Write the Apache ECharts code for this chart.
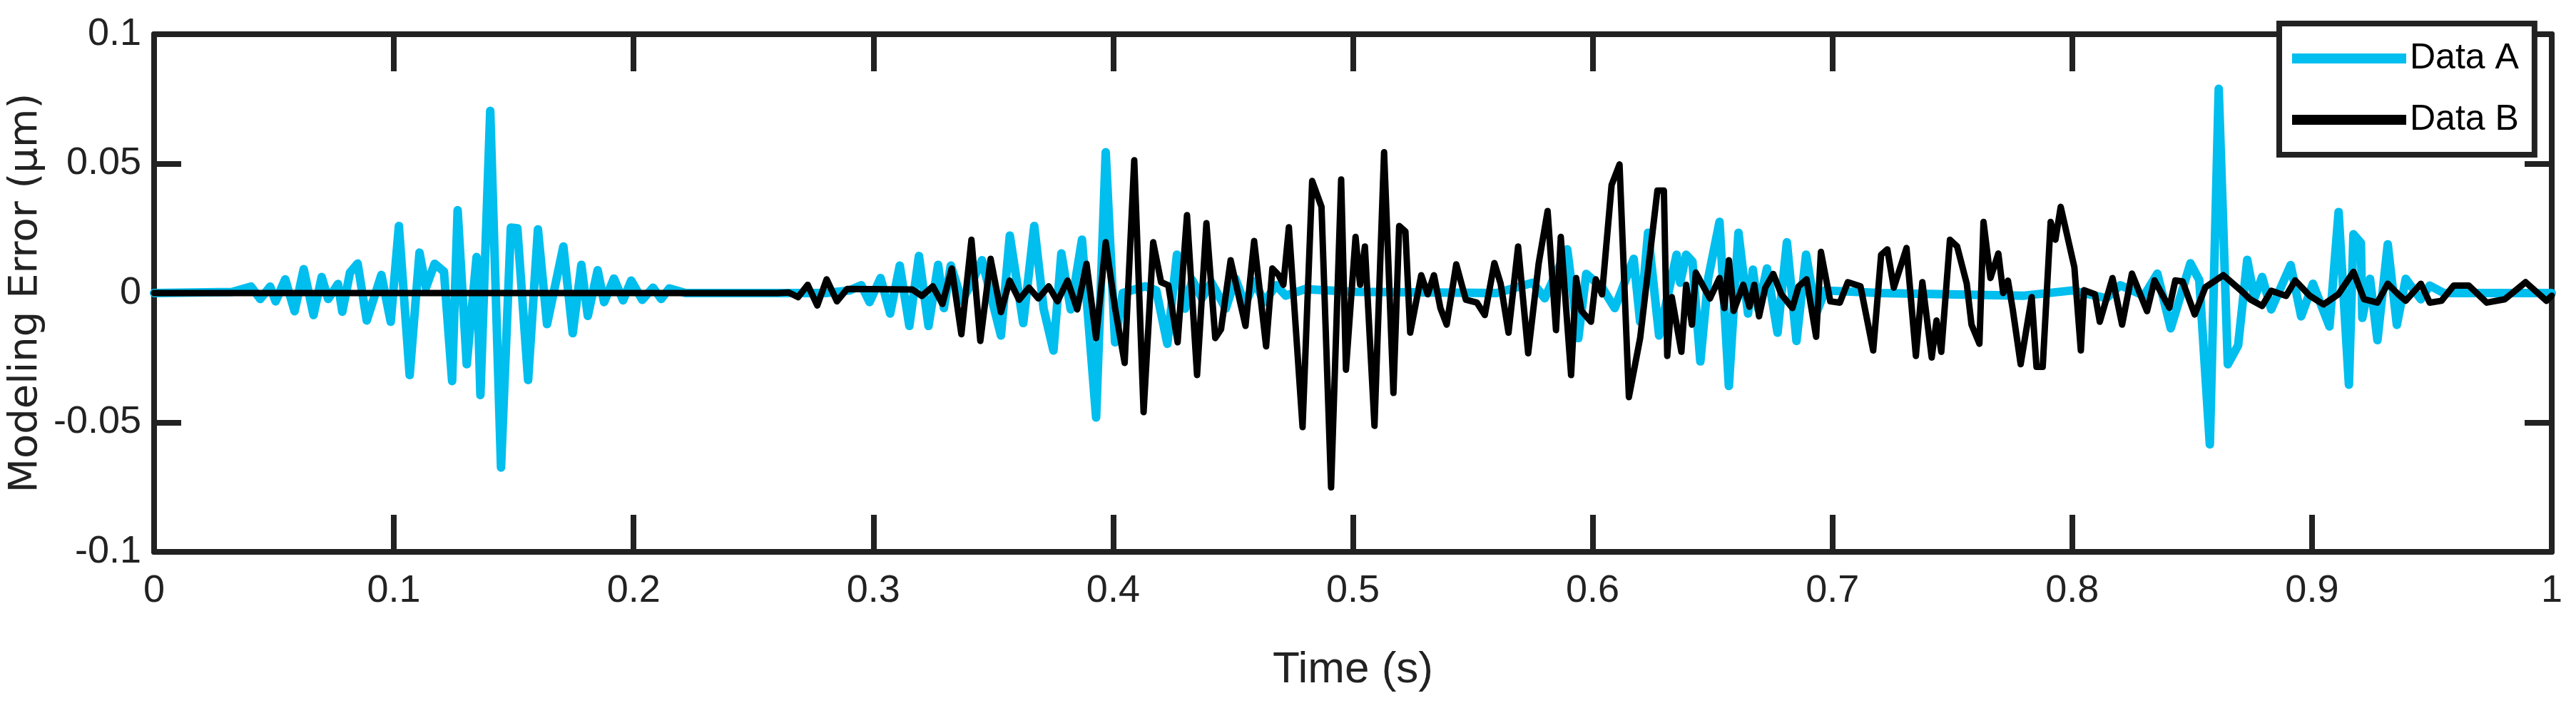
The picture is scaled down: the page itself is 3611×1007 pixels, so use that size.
<!DOCTYPE html>
<html>
<head>
<meta charset="utf-8">
<script src="https://cdn.jsdelivr.net/npm/echarts@6/dist/echarts.min.js"></script>
<style>
  html, body { margin: 0; padding: 0; background: #fff; }
  #chart { width: 3611px; height: 1007px; }
</style>
</head>
<body>
<div id="chart"></div>
<script>
var xTicks = [0, 0.1, 0.2, 0.3, 0.4, 0.5, 0.6, 0.7, 0.8, 0.9, 1];
var yTicks = [-0.1, -0.05, 0, 0.05, 0.1];

// Data A (cyan): [time, error]
var dataA = [
  [0, 0], [0.0325, 0.0004], [0.0404, 0.0025], [0.0443, -0.0023], [0.0484, 0.0025], [0.0507, -0.0032],
  [0.0547, 0.0053], [0.0586, -0.0070], [0.0624, 0.0092], [0.0665, -0.0085], [0.0699, 0.0062],
  [0.0726, -0.0023], [0.0767, 0.0035], [0.0785, -0.0072], [0.0817, 0.0079], [0.0849, 0.0114],
  [0.0887, -0.0106], [0.0948, 0.0070], [0.0987, -0.0111], [0.1021, 0.0259], [0.1066, -0.0317],
  [0.1107, 0.0156], [0.1134, 0.0021], [0.1170, 0.0113], [0.1209, 0.0083], [0.1243, -0.0340],
  [0.1266, 0.0320], [0.1304, -0.0275], [0.1345, 0.0139], [0.1361, -0.0394], [0.1402, 0.0704],
  [0.1447, -0.0674], [0.1488, 0.0253], [0.1515, 0.0250], [0.1560, -0.0336], [0.1601, 0.0246],
  [0.1639, -0.0120], [0.1707, 0.0180], [0.1746, -0.0155], [0.1782, 0.0109], [0.1809, -0.0088],
  [0.1850, 0.0088], [0.1877, -0.0035], [0.1918, 0.0056], [0.1956, -0.0028], [0.1990, 0.0048],
  [0.2036, -0.0026], [0.2081, 0.0021], [0.2115, -0.0023], [0.2149, 0.0018], [0.2217, 0],
  [0.2800, 0], [0.2900, 0.0010], [0.2950, 0.0030], [0.2984, -0.0035], [0.3030, 0.0058],
  [0.3070, -0.0079], [0.3110, 0.0106], [0.3150, -0.0127], [0.3190, 0.0143], [0.3230, -0.0127],
  [0.3270, 0.0109], [0.3294, -0.0058], [0.3323, 0.0106], [0.3370, -0.0030], [0.3410, 0.0040],
  [0.3453, 0.0127], [0.3532, -0.0164], [0.3569, 0.0222], [0.3625, -0.0116], [0.3671, 0.0259],
  [0.3710, -0.0060], [0.3751, -0.0222], [0.3784, 0.0153], [0.3823, -0.0063], [0.3870, 0.0206],
  [0.3929, -0.0481], [0.3969, 0.0544], [0.4008, -0.0190], [0.4040, 0.0000], [0.4134, 0.0026],
  [0.4180, 0.0010], [0.4226, -0.0196], [0.4266, 0.0148], [0.4300, -0.0060], [0.4330, 0.0050],
  [0.4370, -0.0020], [0.4410, 0.0040], [0.4470, -0.0060], [0.4510, 0.0055], [0.4550, -0.0045],
  [0.4590, 0.0045], [0.4630, -0.0035], [0.4680, 0.0030], [0.4720, -0.0010], [0.4800, 0.0015],
  [0.5000, 0.0005], [0.5600, 0.0000], [0.5750, 0.0040], [0.5800, -0.0020], [0.5894, 0.0169],
  [0.5940, -0.0174], [0.5973, 0.0074], [0.6040, 0.0020], [0.6092, -0.0058], [0.6171, 0.0132],
  [0.6198, -0.0111], [0.6231, 0.0233], [0.6277, -0.0164], [0.6350, 0.0148], [0.6365, 0.0040],
  [0.6390, 0.0148], [0.6416, 0.0122], [0.6449, -0.0264], [0.6482, 0.0058], [0.6529, 0.0275],
  [0.6568, -0.0359], [0.6608, 0.0233], [0.6648, -0.0079], [0.6668, 0.0090], [0.6690, -0.0060],
  [0.6727, 0.0095], [0.6771, -0.0153], [0.6810, 0.0196], [0.6850, -0.0185], [0.6890, 0.0148],
  [0.6932, -0.0079], [0.6970, 0.0010], [0.7200, 0.0000], [0.7800, -0.0010], [0.8000, 0.0010],
  [0.8143, -0.0020], [0.8200, 0.0030], [0.8300, -0.0010], [0.8355, 0.0075], [0.8411, -0.0136],
  [0.8493, 0.0115], [0.8530, 0.0050], [0.8574, -0.0585], [0.8611, 0.0789], [0.8649, -0.0275],
  [0.8692, -0.0202], [0.8730, 0.0128], [0.8760, -0.0020], [0.8792, 0.0062], [0.8830, -0.0063],
  [0.8911, 0.0108], [0.8955, -0.0090], [0.9004, 0.0036], [0.9073, -0.0129], [0.9111, 0.0313],
  [0.9154, -0.0354], [0.9173, 0.0227], [0.9204, 0.0194], [0.9210, -0.0096], [0.9242, 0.0055],
  [0.9273, -0.0182], [0.9316, 0.0188], [0.9354, -0.0123], [0.9391, 0.0055], [0.9454, -0.0024],
  [0.9491, 0.0029], [0.9550, 0.0000], [1.0, 0.0000]
];

// Data B (black): [time, error]
var dataB = [
  [0, 0], [0.2600, 0], [0.2647, 0.0002], [0.2686, -0.0016], [0.2726, 0.0032], [0.2766, -0.0048],
  [0.2805, 0.0053], [0.2848, -0.0032], [0.2891, 0.0016], [0.3162, 0.0014], [0.3202, -0.0011],
  [0.3248, 0.0026], [0.3288, -0.0042], [0.3327, 0.0095], [0.3367, -0.0159], [0.3409, 0.0206],
  [0.3446, -0.0185], [0.3489, 0.0132], [0.3532, -0.0074], [0.3568, 0.0048], [0.3608, -0.0026],
  [0.3649, 0.0021], [0.3688, -0.0021], [0.3731, 0.0026], [0.3768, -0.0032], [0.3810, 0.0048],
  [0.3850, -0.0063], [0.3889, 0.0113], [0.3929, -0.0174], [0.3969, 0.0196], [0.4008, -0.0058],
  [0.4048, -0.0270], [0.4088, 0.0513], [0.4127, -0.0460], [0.4167, 0.0196], [0.4200, 0.0042],
  [0.4230, 0.0030], [0.4269, -0.0190], [0.4308, 0.0301], [0.4350, -0.0317], [0.4389, 0.0270],
  [0.4426, -0.0174], [0.4450, -0.0140], [0.4490, 0.0127], [0.4552, -0.0127], [0.4588, 0.0201],
  [0.4638, -0.0206], [0.4664, 0.0095], [0.4690, 0.0070], [0.4710, 0.0032], [0.4733, 0.0254],
  [0.4790, -0.0518], [0.4830, 0.0433], [0.4869, 0.0333], [0.4909, -0.0751], [0.4951, 0.0439],
  [0.4971, -0.0296], [0.5011, 0.0217], [0.5030, 0.0032], [0.5050, 0.0180], [0.5090, -0.0513],
  [0.5130, 0.0544], [0.5169, -0.0386], [0.5193, 0.0259], [0.5219, 0.0238], [0.5239, -0.0153],
  [0.5285, 0.0069], [0.5312, -0.0005], [0.5338, 0.0069], [0.5365, -0.0058], [0.5391, -0.0122],
  [0.5431, 0.0111], [0.5471, -0.0026], [0.5517, -0.0037], [0.5550, -0.0085], [0.5590, 0.0116],
  [0.5616, 0.0037], [0.5649, -0.0153], [0.5689, 0.0180], [0.5731, -0.0233], [0.5775, 0.0116],
  [0.5812, 0.0317], [0.5847, -0.0143], [0.5867, 0.0217], [0.5910, -0.0317], [0.5931, 0.0058],
  [0.5953, -0.0069], [0.5993, -0.0111], [0.6013, 0.0053], [0.6039, -0.0005], [0.6079, 0.0418],
  [0.6112, 0.0497], [0.6151, -0.0402], [0.6198, -0.0174], [0.6270, 0.0396], [0.6297, 0.0396],
  [0.6311, -0.0243], [0.6330, -0.0016], [0.6370, -0.0227], [0.6390, 0.0032], [0.6414, -0.0122],
  [0.6430, 0.0079], [0.6489, -0.0021], [0.6529, 0.0058], [0.6549, -0.0058], [0.6568, 0.0127],
  [0.6588, -0.0069], [0.6628, 0.0032], [0.6654, -0.0053], [0.6674, 0.0032], [0.6694, -0.0090],
  [0.6720, 0.0021], [0.6753, 0.0074], [0.6787, -0.0005], [0.6833, -0.0058], [0.6859, 0.0026],
  [0.6892, 0.0053], [0.6932, -0.0169], [0.6952, 0.0159], [0.6991, -0.0032], [0.7031, -0.0037],
  [0.7064, 0.0042], [0.7117, 0.0026], [0.7170, -0.0222], [0.7203, 0.0148], [0.7229, 0.0169],
  [0.7256, 0.0021], [0.7309, 0.0174], [0.7348, -0.0243], [0.7375, 0.0042], [0.7414, -0.0249],
  [0.7434, -0.0106], [0.7454, -0.0227], [0.7490, 0.0206], [0.7520, 0.0180], [0.7560, 0.0037],
  [0.7580, -0.0122], [0.7613, -0.0196], [0.7630, 0.0275], [0.7659, 0.0058], [0.7692, 0.0153],
  [0.7712, 0.0000], [0.7732, 0.0048], [0.7752, -0.0063], [0.7785, -0.0275], [0.7831, -0.0016],
  [0.7851, -0.0285], [0.7877, -0.0285], [0.7910, 0.0275], [0.7930, 0.0206], [0.7952, 0.0333],
  [0.8009, 0.0100], [0.8036, -0.0222], [0.8049, 0.0011], [0.8095, -0.0005], [0.8115, -0.0111],
  [0.8168, 0.0058], [0.8208, -0.0122], [0.8249, 0.0075], [0.8312, -0.0070], [0.8343, 0.0049],
  [0.8405, -0.0057], [0.8430, 0.0049], [0.8460, 0.0045], [0.8511, -0.0083], [0.8555, 0.0022],
  [0.8630, 0.0069], [0.8705, 0.0009], [0.8742, -0.0024], [0.8792, -0.0050], [0.8830, 0.0009],
  [0.8892, -0.0011], [0.8930, 0.0049], [0.8990, -0.0010], [0.9048, -0.0044], [0.9110, -0.0005],
  [0.9173, 0.0082], [0.9217, -0.0024], [0.9273, -0.0037], [0.9316, 0.0036], [0.9360, -0.0005],
  [0.9391, -0.0030], [0.9454, 0.0036], [0.9491, -0.0037], [0.9540, -0.0030], [0.9591, 0.0029],
  [0.9654, 0.0029], [0.9729, -0.0037], [0.9804, -0.0024], [0.9891, 0.0042], [0.9978, -0.0030],
  [1.0, -0.0010]
];

var narrow = '"Liberation Sans Narrow", "Arial Narrow", "Liberation Sans", sans-serif';
var frame = '#222222';

var chart = echarts.init(document.getElementById('chart'), null, { renderer: 'canvas' });

function tickAxis(base) {
  return Object.assign({
    axisLine: { show: true, onZero: false, lineStyle: { color: frame, width: 8 } },
    axisTick: { show: true, inside: true, lineStyle: { color: frame, width: 8 } },
    splitLine: { show: false }
  }, base);
}

chart.setOption({
  animation: false,
  backgroundColor: '#ffffff',
  grid: { left: 200, right: 34, top: 48, bottom: 233, show: false },
  legend: {
    left: 3195, top: 33,
    orient: 'vertical',
    backgroundColor: '#ffffff',
    borderColor: frame, borderWidth: 8, borderRadius: 0,
    padding: [24, 22, 24, 18],
    itemWidth: 160, itemHeight: 14, itemGap: 36,
    icon: 'rect',
    textStyle: { fontFamily: narrow, fontSize: 50, color: '#000' },
    data: ['Data A', 'Data B']
  },
  xAxis: [
    tickAxis({
      type: 'value', min: 0, max: 1, interval: 0.1, position: 'bottom',
      name: 'Time (s)', nameLocation: 'middle', nameGap: 135,
      nameTextStyle: { fontFamily: narrow, fontSize: 62, color: '#222' },
      axisTick: { show: true, inside: true, length: 52, lineStyle: { color: frame, width: 8 } },
      axisLabel: { fontFamily: narrow, fontSize: 54, color: '#222', margin: 28 }
    }),
    tickAxis({
      type: 'value', min: 0, max: 1, interval: 0.1, position: 'top',
      axisTick: { show: true, inside: true, length: 52, lineStyle: { color: frame, width: 8 } },
      axisLabel: { show: false }
    })
  ],
  yAxis: [
    tickAxis({
      type: 'value', min: -0.1, max: 0.1, interval: 0.05, position: 'left',
      name: 'Modeling Error (\u03bcm)', nameLocation: 'middle', nameGap: 128,
      nameTextStyle: { fontFamily: '"DejaVu Sans", sans-serif', fontSize: 56, color: '#222' },
      axisTick: { show: true, inside: true, length: 38, lineStyle: { color: frame, width: 8 } },
      axisLabel: { fontFamily: narrow, fontSize: 54, color: '#222', margin: 18 }
    }),
    tickAxis({
      type: 'value', min: -0.1, max: 0.1, interval: 0.05, position: 'right',
      axisTick: { show: true, inside: true, length: 38, lineStyle: { color: frame, width: 8 } },
      axisLabel: { show: false }
    })
  ],
  series: [
    {
      name: 'Data A', type: 'line', data: dataA, showSymbol: false, symbol: 'none',
      itemStyle: { color: '#00BEEE' },
      lineStyle: { color: '#00BEEE', width: 12, join: 'round', cap: 'round' },
      z: 2
    },
    {
      name: 'Data B', type: 'line', data: dataB, showSymbol: false, symbol: 'none',
      itemStyle: { color: '#000000' },
      lineStyle: { color: '#000000', width: 9, join: 'round', cap: 'round' },
      z: 3
    }
  ]
});
window.addEventListener('resize', function() { chart.resize(); });
</script>
</body>
</html>
